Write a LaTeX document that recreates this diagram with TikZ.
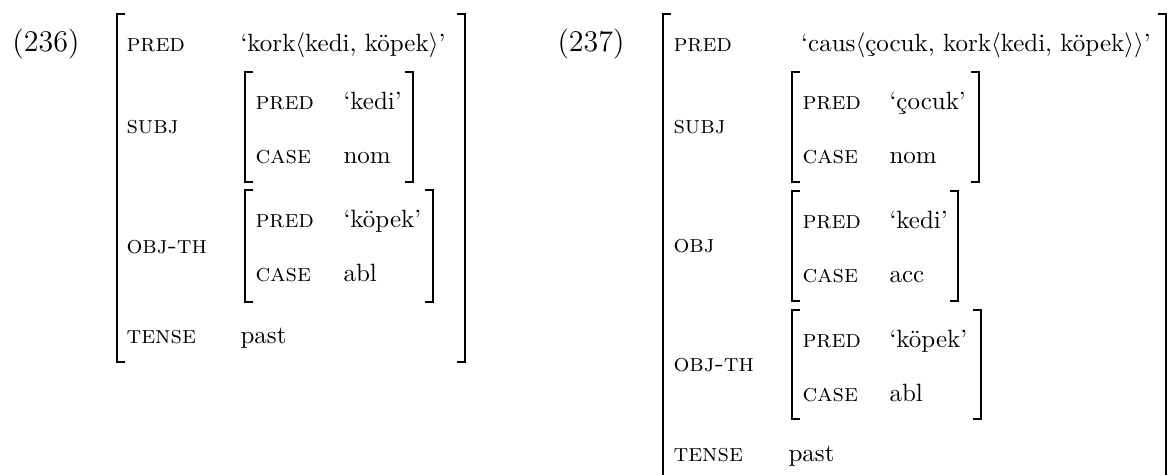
\documentclass[tikz,border=0pt]{standalone}
\usetikzlibrary{fit}
\begin{document}
\begin{tikzpicture}[x=0.4pt, y=-0.4pt]
    \tikzstyle{box} = [inner sep=0pt, outer sep=0pt]
    \tikzstyle{attr} = [anchor=base west, inner sep=0pt, font=\scshape]
    \tikzstyle{val} = [anchor=base west, inner sep=0pt]
    \tikzstyle{num} = [anchor=base west, inner sep=0pt, font=\large]
    \tikzstyle{brk} = [line width=0.5pt]

    \useasboundingbox (0,0) rectangle (1174,474);

    % (236)
    \node [num] (exA) at (12,51) {(236)};
    \node [box, fit={(117,14) (465,362)}] (outA) {};
    \node [attr] (predA) at (126,51) {pred};
    \node [val] (korkA) at (240,51) {`kork$\langle$kedi, köpek$\rangle$'};
    \node [attr] (subjA) at (126,133) {subj};
    \node [box, fit={(245,72) (413,182)}] (subjboxA) {};
    \node [attr] (spredA) at (255,109) {pred};
    \node [val] (skediA) at (343,109) {`kedi'};
    \node [attr] (scaseA) at (255,163) {case};
    \node [val] (snomA) at (343,163) {nom};
    \node [attr] (objthA) at (126,253) {obj-th};
    \node [box, fit={(245,190) (433,302)}] (objthboxA) {};
    \node [attr] (opredA) at (255,227) {pred};
    \node [val] (okopekA) at (343,227) {`köpek'};
    \node [attr] (ocaseA) at (255,281) {case};
    \node [val] (oablA) at (343,281) {abl};
    \node [attr] (tenseA) at (126,343) {tense};
    \node [val] (pastA) at (240,343) {past};

    % (237)
    \node [num] (exB) at (557,51) {(237)};
    \node [box, fit={(663,14) (1166,481)}] (outB) {};
    \node [attr] (predB) at (673,51) {pred};
    \node [val, anchor=base] (causB) at (976,51) {`caus$\langle$çocuk, kork$\langle$kedi, köpek$\rangle\rangle$'};
    \node [attr] (subjB) at (673,133) {subj};
    \node [box, fit={(792,72) (979,182)}] (subjboxB) {};
    \node [attr] (spredB) at (802,109) {pred};
    \node [val] (scocukB) at (889,109) {`çocuk'};
    \node [attr] (scaseB) at (802,163) {case};
    \node [val] (snomB) at (889,163) {nom};
    \node [attr] (objB) at (673,252) {obj};
    \node [box, fit={(792,191) (958,301)}] (objboxB) {};
    \node [attr] (opredB) at (802,228) {pred};
    \node [val] (okediB) at (889,228) {`kedi'};
    \node [attr] (ocaseB) at (802,282) {case};
    \node [val] (oaccB) at (889,282) {acc};
    \node [attr] (objthB) at (673,371) {obj-th};
    \node [box, fit={(792,310) (981,419)}] (objthboxB) {};
    \node [attr] (tpredB) at (802,347) {pred};
    \node [val] (tkopekB) at (889,347) {`köpek'};
    \node [attr] (tcaseB) at (802,401) {case};
    \node [val] (tablB) at (889,401) {abl};
    \node [attr] (tenseB) at (673,461) {tense};
    \node [val] (pastB) at (788,461) {past};

    % brackets
    \foreach \b in {outA,subjboxA,objthboxA,outB,subjboxB,objboxB,objthboxB} {
        \draw [brk] (\b.north west) ++(8,0) -| (\b.south west) -- ++(8,0);
        \draw [brk] (\b.north east) ++(-8,0) -| (\b.south east) -- ++(-8,0);
    }
\end{tikzpicture}
\end{document}
